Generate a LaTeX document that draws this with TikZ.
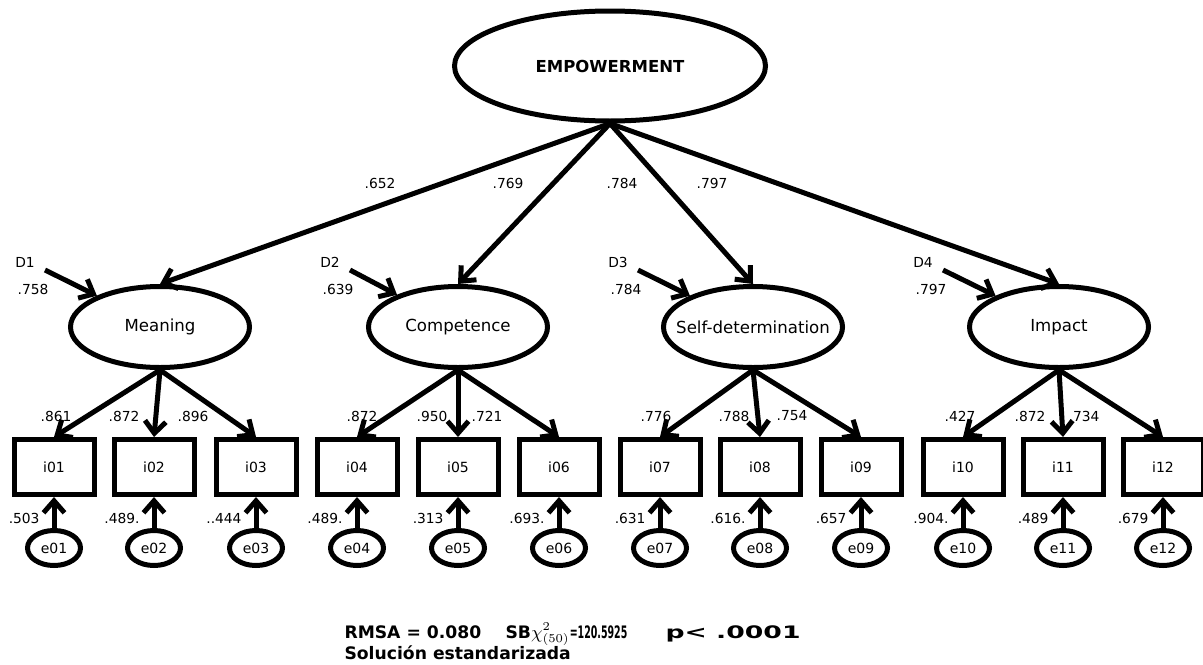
\documentclass[tikz,border=0pt]{standalone}
\usepackage{fontspec}
\setmainfont{DejaVu Sans}
\usetikzlibrary{shapes.geometric,arrows.meta}

\begin{document}
\begin{tikzpicture}[x=0.5pt,y=-0.5pt,line width=2.5pt,
  latent/.style={draw,ellipse,inner sep=0pt,minimum width=89.5pt,minimum height=40.5pt,font=\fontsize{8.3}{10}\selectfont},
  item/.style={draw,rectangle,inner sep=0pt,minimum width=40pt,minimum height=27.5pt,font=\fontsize{7}{8}\selectfont},
  errvar/.style={draw,ellipse,inner sep=0pt,minimum width=26.5pt,minimum height=17.5pt,font=\fontsize{7}{8}\selectfont},
  coef/.style={inner sep=0pt,font=\fontsize{6.9}{8}\selectfont},
  fitnote/.style={inner sep=0pt,anchor=base west,font=\bfseries\fontsize{8.6}{10}\selectfont},
  effect/.style={-{Straight Barb[length=6pt,width=10.5pt]}}]

% Picture frame (same size as the original figure)
\useasboundingbox (0,0) rectangle (1203,664);

% Second order factor
\node[latent,minimum width=155.5pt,minimum height=55pt,font=\bfseries\fontsize{8.25}{10}\selectfont]
  (emp) at (610,66) {\makebox[0pt]{EMPOWERMENT}};

% First order factors
\node[latent] (mean) at (160,327) {\makebox[0pt]{Meaning}};
\node[latent] (comp) at (458,327) {\makebox[0pt]{Competence}};
\node[latent] (self) at (753,327) {\makebox[0pt]{Self-determination}};
\node[latent] (imp)  at (1059,327) {\makebox[0pt]{Impact}};

% Loadings on the second order factor
\foreach \f/\x/\v in {mean/380/.652, comp/508/.769, self/622/.784, imp/712/.797}
{
  \node[coef] (c\f) at (\x,183) {\v};
  \draw[effect] (emp.south) -- (\f.north);
}

% Disturbances
\foreach \f/\d/\x/\r in {mean/1/45/.758, comp/2/350/.639, self/3/638/.784, imp/4/943/.797}
{
  \coordinate (d\d) at (\x,270);
  \node[coef] (dl\d) at (\x-20,262) {D\d};
  \node[coef] (dr\d) at (\x-12,289) {\r};
  \draw[effect] (d\d) -- (\f);
}

% Items, errors and their coefficients
\foreach \n/\x/\lx/\load/\err in {01/54/56/.861/.503, 02/154/124/.872/.489., 03/256/193/.896/..444,
  04/357/362/.872/.489., 05/458/432/.950/.313, 06/559/487/.721/.693.,
  07/660/656/.776/.631, 08/760/734/.788/.616., 09/861/792/.754/.657,
  10/963/960/.427/.904., 11/1063/1030/.872/.489, 12/1163/1084/.734/.679}
{
  \node[item] (i\n) at (\x,467) {i\n};
  \node[errvar] (e\n) at (\x,548) {e\n};
  \node[coef] (l\n) at (\lx,416) {\load};
  \node[coef,anchor=east] (r\n) at (\x-12,518) {\err};
  \draw[effect] (e\n) -- (i\n);
}

% Loadings of the items
\foreach \f/\a/\b/\c in {mean/01/02/03, comp/04/05/06, self/07/08/09, imp/10/11/12}
  \foreach \t in {\a,\b,\c}
    \draw[effect] (\f.south) -- (i\t.north);

% Fit indices
\node[fitnote] (rmsa) at (342,638) {RMSA = 0.080};
\node[fitnote] (chi) at (503,638) {SB$\chi^{2}_{(50)}$\scalebox{0.55}[1]{=120.5925}};
\node[fitnote] (pval) at (663,638) {\scalebox{1.55}[1]{p< .0001}};
\node[fitnote] (sol) at (342,659) {Solución estandarizada};

\end{tikzpicture}
\end{document}
